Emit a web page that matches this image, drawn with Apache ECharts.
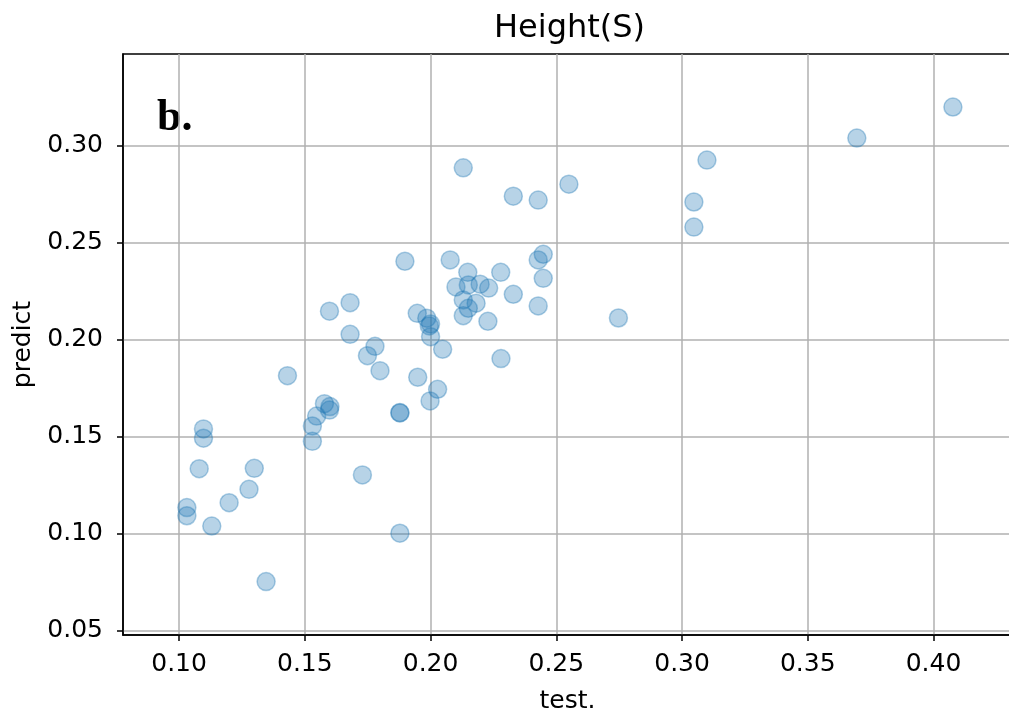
<!DOCTYPE html>
<html>
<head>
<meta charset="utf-8">
<script src="https://cdn.jsdelivr.net/npm/echarts@6/dist/echarts.min.js"></script>
<style>html,body{margin:0;padding:0;background:#fff}#c{width:1009px;height:717px}</style>
</head>
<body>
<div id="c"></div>
<script>
const testValues = [0.4077,0.3695,0.3099,0.3047,0.3047,0.2747,0.2550,0.2329,0.2428,0.2130,
  0.2448,0.2428,0.2448,0.2428,0.2329,0.2279,0.2148,0.2078,0.1898,0.2101,
  0.2150,0.2197,0.2231,0.2130,0.2181,0.2150,0.2130,0.2228,0.1947,0.1985,
  0.2000,0.1995,0.2000,0.2048,0.2280,0.1680,0.1598,0.1680,0.1779,0.1749,
  0.1799,0.1949,0.2028,0.1998,0.1878,0.1878,0.1431,0.1578,0.1600,0.1598,
  0.1547,0.1530,0.1530,0.1097,0.1097,0.1080,0.1299,0.1278,0.1199,0.1031,
  0.1031,0.1130,0.1346,0.1729,0.1878];
const predictValues = [0.3197,0.3037,0.2924,0.2708,0.2579,0.2111,0.2800,0.2738,0.2718,0.2884,
  0.2439,0.2410,0.2315,0.2173,0.2233,0.2346,0.2346,0.2410,0.2403,0.2271,
  0.2281,0.2285,0.2265,0.2204,0.2187,0.2161,0.2123,0.2094,0.2135,0.2110,
  0.2080,0.2070,0.2015,0.1950,0.1902,0.2190,0.2146,0.2027,0.1965,0.1917,
  0.1840,0.1806,0.1744,0.1684,0.1624,0.1622,0.1814,0.1670,0.1655,0.1637,
  0.1606,0.1555,0.1476,0.1540,0.1492,0.1335,0.1337,0.1229,0.1160,0.1135,
  0.1093,0.1040,0.0754,0.1303,0.1003];
const xTicks = [0.10,0.15,0.20,0.25,0.30,0.35,0.40];
const yTicks = [0.05,0.10,0.15,0.20,0.25,0.30];
const titleText = 'Height(S)';
const panelLabel = 'b.';
const xName = 'test.';
const yName = 'predict';

const FONT = '"DejaVu Sans", sans-serif';
const points = testValues.map((v, i) => [v, predictValues[i]]);
const chart = echarts.init(document.getElementById('c'), null, {renderer: 'canvas'});
const axisCommon = {
  axisLine: {show: true, lineStyle: {color: '#000', width: 1.5}},
  axisTick: {show: true, inside: false, length: 6, lineStyle: {color: '#000', width: 1.5}},
  splitLine: {show: true, lineStyle: {color: '#b0b0b0', width: 1.5}},
  nameTextStyle: {color: '#000', fontSize: 25, fontFamily: FONT}
};
chart.setOption({
  animation: false,
  backgroundColor: '#fff',
  grid: {left: 123, top: 54, right: -3, bottom: 82, show: true, borderColor: '#000', borderWidth: 1.5,
    backgroundColor: 'transparent', containLabel: false, outerBoundsMode: 'none'},
  xAxis: Object.assign({}, axisCommon, {
    type: 'value', min: 0.0777, max: 0.4312,
    axisTick: Object.assign({}, axisCommon.axisTick, {customValues: xTicks}),
    axisLabel: {customValues: xTicks, color: '#000', fontSize: 25, fontFamily: FONT, margin: 17,
      formatter: v => v.toFixed(2)},
    name: xName, nameLocation: 'middle', nameGap: 54
  }),
  yAxis: Object.assign({}, axisCommon, {
    type: 'value', min: 0.0479, max: 0.347,
    axisTick: Object.assign({}, axisCommon.axisTick, {customValues: yTicks}),
    axisLabel: {customValues: yTicks, color: '#000', fontSize: 25, fontFamily: FONT, margin: 20,
      formatter: v => v.toFixed(2)},
    name: yName, nameLocation: 'middle', nameGap: 85
  }),
  graphic: [
    {type: 'text', left: 494, top: 13, style: {text: titleText, font: '32px ' + FONT, fill: '#000'}},
    {type: 'text', left: 157, top: 97, style: {text: panelLabel, font: 'bold 44px "Liberation Serif", serif', fill: '#000'}}
  ],
  series: [{
    type: 'scatter',
    data: points,
    symbol: 'circle',
    symbolSize: 18,
    itemStyle: {color: 'rgba(31,119,180,0.4)', borderColor: 'rgba(31,119,180,0.45)', borderWidth: 1.5}
  }]
});
</script>
</body>
</html>
